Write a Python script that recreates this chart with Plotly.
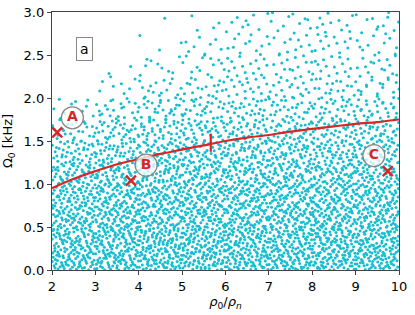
import plotly.graph_objects as go

# ---- density of the cyan cloud (points per cell) ----
# columns: x bins [2-3, 3-4, ..., 9-10]; rows: y bins of 0.25 from 0.0 upwards
x_bin_edges = [2, 3, 4, 5, 6, 7, 8, 9, 10]
y_bin_edges = [0.0, 0.25, 0.5, 0.75, 1.0, 1.25, 1.5, 1.75, 2.0, 2.25, 2.5, 2.75, 3.0]
cell_counts = [
    [72, 74, 74, 74, 74, 74, 74, 74],
    [68, 70, 70, 70, 70, 70, 70, 70],
    [64, 66, 66, 66, 66, 66, 66, 66],
    [60, 62, 62, 62, 62, 62, 62, 62],
    [54, 56, 56, 56, 56, 56, 56, 56],
    [40, 46, 48, 48, 48, 48, 48, 48],
    [24, 34, 38, 38, 38, 38, 38, 38],
    [10, 22, 28, 28, 28, 28, 28, 28],
    [0, 8, 16, 19, 19, 19, 19, 19],
    [0, 2, 9, 13, 15, 15, 15, 15],
    [0, 0, 3, 8, 12, 12, 12, 12],
    [0, 0, 1, 4, 9, 11, 11, 11],
]

# ---- red fit curve ----
curve_x = [2.0, 2.5, 3.0, 3.5, 4.0, 4.5, 5.0, 5.5, 6.0, 6.5, 7.0, 7.5, 8.0, 8.5, 9.0, 9.5, 10.0]
curve_y = [0.95, 1.06, 1.15, 1.23, 1.29, 1.35, 1.40, 1.45, 1.50, 1.54, 1.57, 1.61, 1.64, 1.67, 1.70, 1.72, 1.75]

# marker on the curve
tick_x = [5.66]
tick_y = [1.48]

# labelled cases
case_labels = ["A", "B", "C"]
case_x = [2.12, 3.82, 9.74]
case_y = [1.60, 1.04, 1.15]
label_x = [2.47, 4.17, 9.42]
label_y = [1.77, 1.22, 1.33]

# ---- place points of each cell on a low-discrepancy pattern ----
def van_der_corput(n, base):
    v, denom = 0.0, 1.0
    while n:
        n, rem = divmod(n, base)
        denom *= base
        v += rem / denom
    return v

pts_x, pts_y = [], []
k = 1
for r, row in enumerate(cell_counts):
    y0, y1 = y_bin_edges[r], y_bin_edges[r + 1]
    for c, cnt in enumerate(row):
        x0, x1 = x_bin_edges[c], x_bin_edges[c + 1]
        for i in range(cnt):
            u = van_der_corput(k, 2)
            v = van_der_corput(k, 3)
            k += 1
            pts_x.append(x0 + u * (x1 - x0))
            pts_y.append(y0 + v * (y1 - y0))

RED = "#d62728"
fig = go.Figure()
fig.add_trace(go.Scatter(x=pts_x, y=pts_y, mode="markers",
                         marker=dict(size=3, color="#17becf", line=dict(width=0)),
                         hoverinfo="skip", showlegend=False))
fig.add_trace(go.Scatter(x=curve_x, y=curve_y, mode="lines", line=dict(color=RED, width=2.2, shape="spline"),
                         showlegend=False))
fig.add_trace(go.Scatter(x=tick_x, y=tick_y, mode="markers",
                         marker=dict(symbol="line-ns", size=13, line=dict(color=RED, width=2.2)),
                         showlegend=False))
fig.add_trace(go.Scatter(x=case_x, y=case_y, mode="markers",
                         marker=dict(symbol="x-thin", size=10, line=dict(color=RED, width=2.4)),
                         showlegend=False))
fig.add_trace(go.Scatter(x=label_x, y=label_y, mode="markers+text", text=case_labels,
                         textposition="middle center",
                         textfont=dict(color=RED, size=14, family="DejaVu Sans", weight="bold"),
                         marker=dict(symbol="circle", size=22, color="rgba(255,255,255,0.75)",
                                     line=dict(color="#888888", width=1.3)),
                         showlegend=False))

fig.add_annotation(x=0.07, y=0.905, xref="paper", yref="paper", text="a", showarrow=False,
                   font=dict(size=14, color="black", family="DejaVu Sans"),
                   bordercolor="#888888", borderwidth=1, borderpad=3, bgcolor="white")

axis_common = dict(showline=True, linecolor="#444444", linewidth=1.2, mirror=True, ticks="outside",
                   ticklen=4, tickcolor="#444444", showgrid=False, zeroline=False, automargin=False,
                   ticklabeloverflow="allow",
                   tickfont=dict(size=13, color="black", family="DejaVu Sans"))
fig.update_xaxes(range=[2, 10], tickvals=[2, 3, 4, 5, 6, 7, 8, 9, 10],
                 title=dict(text="<i>ρ</i><sub>0</sub>/<i>ρ</i><sub><i>n</i></sub>",
                            font=dict(size=13, color="black", family="DejaVu Sans"), standoff=4),
                 **axis_common)
fig.update_yaxes(range=[0, 3], tickvals=[0, 0.5, 1, 1.5, 2, 2.5, 3], tickformat=".1f",
                 title=dict(text="Ω<sub>0</sub> [kHz]",
                            font=dict(size=13, color="black", family="DejaVu Sans"), standoff=8),
                 **axis_common)
fig.update_layout(width=415, height=315, margin=dict(l=52, r=16, t=12, b=45),
                  plot_bgcolor="white", paper_bgcolor="white", hovermode=False,
                  font=dict(family="DejaVu Sans", color="black"))
fig.write_html("out.html", config={"displayModeBar": False, "staticPlot": True},
               post_script="document.body.style.margin='0';document.body.style.overflow='hidden';")
